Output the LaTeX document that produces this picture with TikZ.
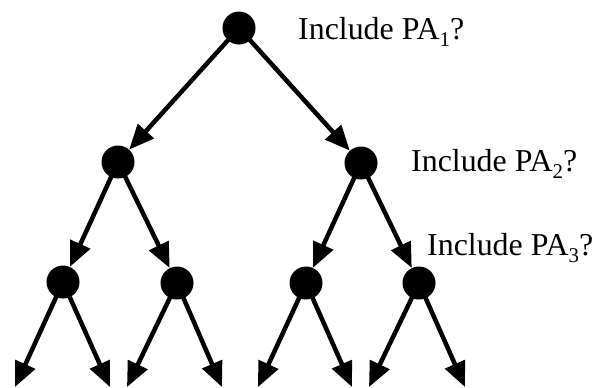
\documentclass[tikz,border=0pt]{standalone}
\usepackage{fontspec}
\setmainfont{Liberation Serif}
\usetikzlibrary{arrows.meta}
\newcommand{\sbs}[1]{\raisebox{-0.25em}{\fontsize{21}{21}\selectfont #1}}
\tikzset{
  dot/.style={circle, fill=black, inner sep=0pt, minimum width=33bp, minimum height=31bp},
  edge/.style={line width=4.5bp, -{Triangle[length=25bp,width=21bp]}, shorten <=-2bp},
  lbl/.style={anchor=base west, inner sep=0pt, font=\fontsize{32}{38}\selectfont}
}
\begin{document}
\begin{tikzpicture}[x=1bp,y=-1bp]
\useasboundingbox (0,0) rectangle (594,387);
\node[dot] (r) at (239,28) {};
\node[dot] (a) at (118,162) {};
\node[dot] (b) at (361,163) {};
\node[dot] (aa) at (63,282) {};
\node[dot] (ab) at (177,283) {};
\node[dot] (ba) at (306,283) {};
\node[dot] (bb) at (419,283) {};
\coordinate (l1) at (15,387);
\coordinate (l2) at (110,387);
\coordinate (l3) at (127,387);
\coordinate (l4) at (222,387);
\coordinate (l5) at (258,387);
\coordinate (l6) at (352,387);
\coordinate (l7) at (369,387);
\coordinate (l8) at (465,387);
\draw[edge] (r) -- (a);
\draw[edge] (r) -- (b);
\draw[edge] (a) -- (aa);
\draw[edge] (a) -- (ab);
\draw[edge] (b) -- (ba);
\draw[edge] (b) -- (bb);
\draw[edge] (aa) -- (l1);
\draw[edge] (aa) -- (l2);
\draw[edge] (ab) -- (l3);
\draw[edge] (ab) -- (l4);
\draw[edge] (ba) -- (l5);
\draw[edge] (ba) -- (l6);
\draw[edge] (bb) -- (l7);
\draw[edge] (bb) -- (l8);
\node[lbl] (t1) at (298,39) {Include PA\sbs{1}?};
\node[lbl] (t2) at (411,171) {Include PA\sbs{2}?};
\node[lbl] (t3) at (427,255) {Include PA\sbs{3}?};
\end{tikzpicture}
\end{document}
